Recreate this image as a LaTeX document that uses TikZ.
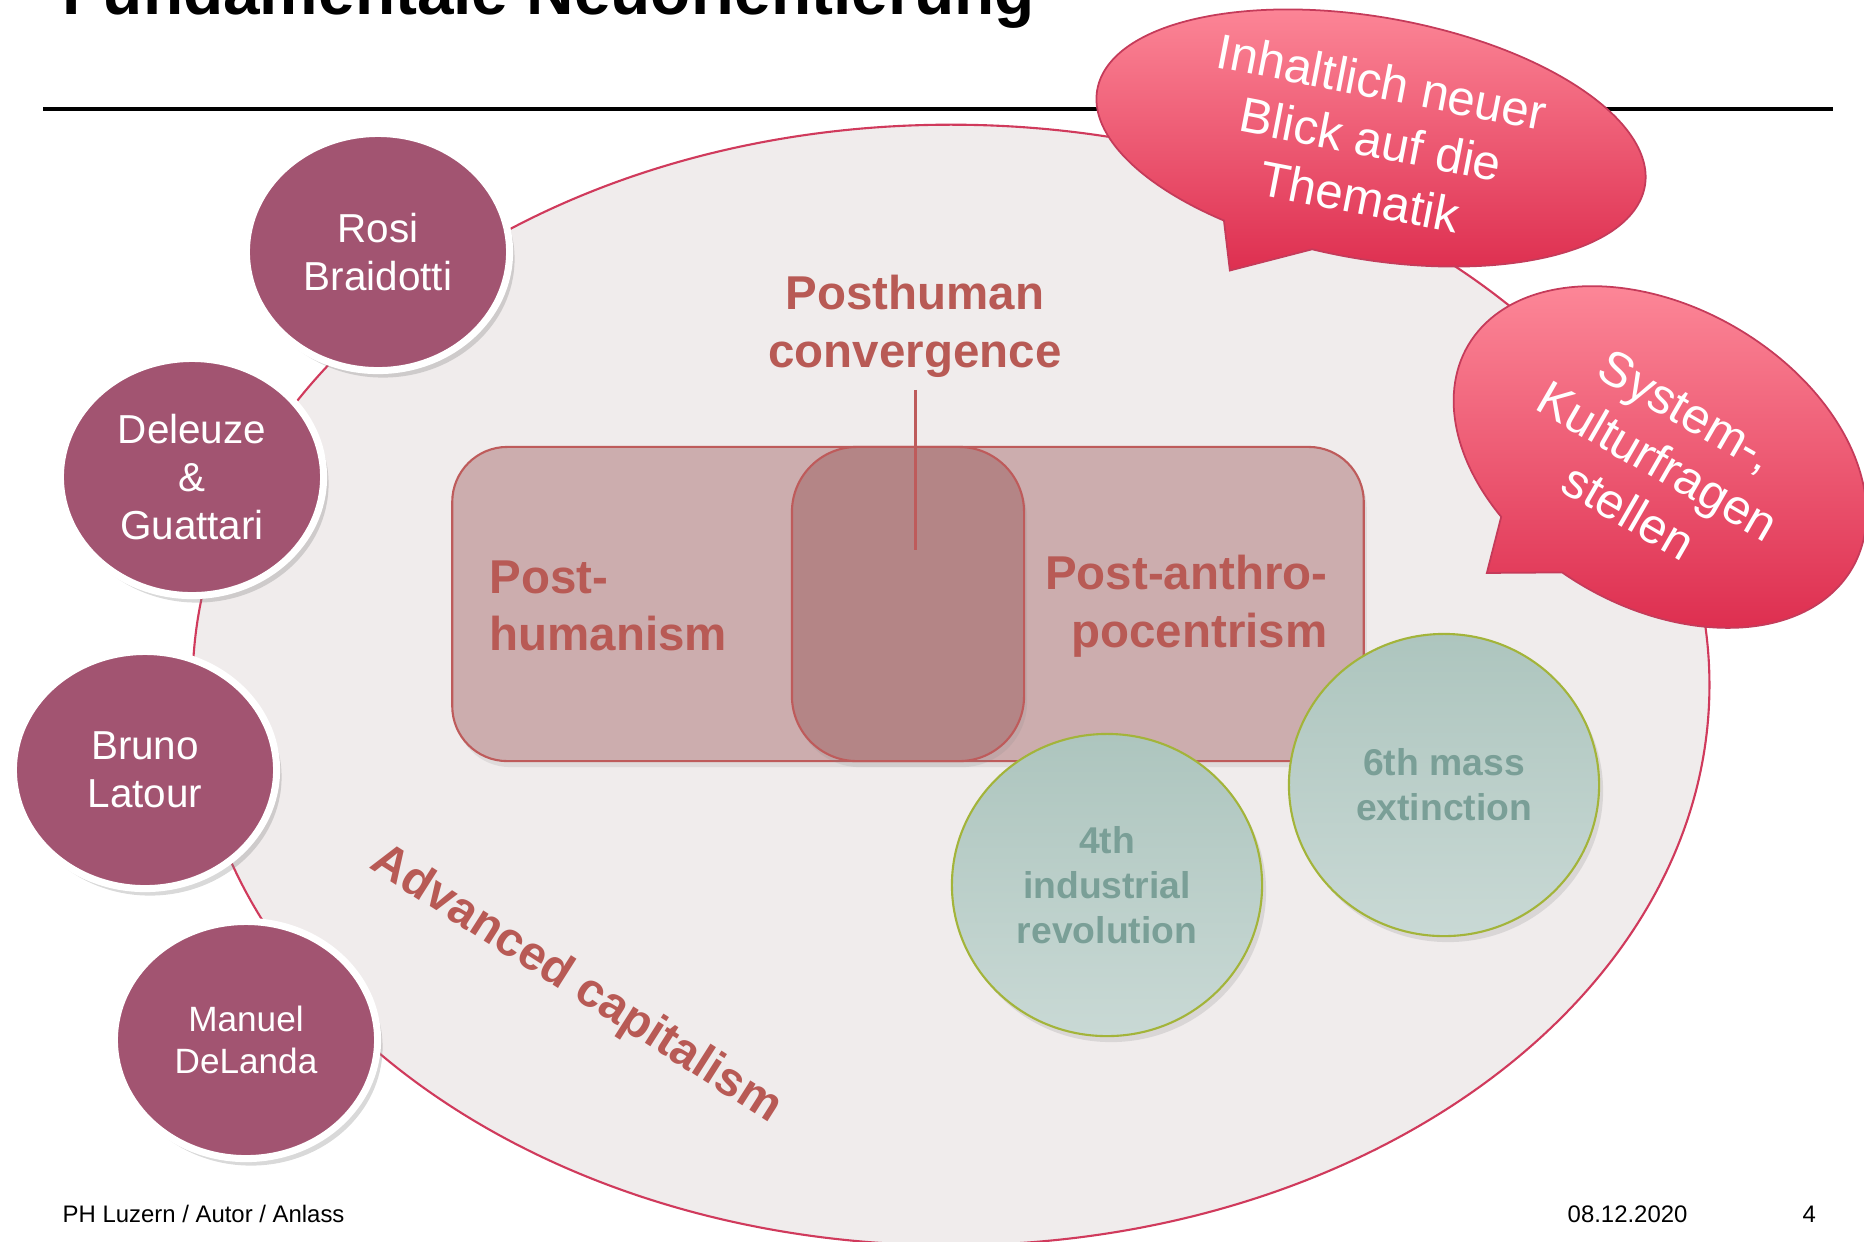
\documentclass[tikz,border=0pt]{standalone}
\usepackage{fontspec}
\setmainfont{Liberation Sans}
\usetikzlibrary{shapes.geometric,shadows}

\definecolor{plum}{HTML}{A25471}
\definecolor{ovalbg}{HTML}{F0ECEC}
\definecolor{ovalrim}{HTML}{D03A5C}
\definecolor{boxfill}{HTML}{CCADAE}
\definecolor{boxmid}{HTML}{B48586}
\definecolor{boxrim}{HTML}{BE5B5B}
\definecolor{rust}{HTML}{B85A55}
\definecolor{sagetop}{HTML}{ADC5BE}
\definecolor{sagebot}{HTML}{C9D9D5}
\definecolor{sagerim}{HTML}{A3B43A}
\definecolor{sagetext}{HTML}{7A9F97}
\definecolor{bubtop}{HTML}{FE8B9B}
\definecolor{bubbot}{HTML}{DC2A4C}
\definecolor{bubrim}{HTML}{C53B5A}

\begin{document}
\begin{tikzpicture}[x=0.01cm,y=-0.01cm,inner sep=0pt]
  \tikzstyle{thinker}=[ellipse,draw=white,line width=2pt,fill=plum,text=white,
                       minimum width=2.63cm,minimum height=2.37cm,align=center,
                       drop shadow={opacity=0.3,shadow xshift=0.5mm,shadow yshift=-0.7mm},
                       font=\fontsize{11.5}{13.7}\selectfont]
  \tikzstyle{trend}=[ellipse,draw=sagerim,line width=0.6pt,top color=sagetop,
                     bottom color=sagebot,text=sagetext,align=center,
                     minimum width=3.1cm,minimum height=3.02cm,
                     drop shadow={opacity=0.2,shadow xshift=0.4mm,shadow yshift=-0.6mm},
                     font=\bfseries\fontsize{10.6}{12.8}\selectfont]
  \tikzstyle{field}=[rectangle,draw=boxrim,line width=0.6pt,minimum height=3.14cm,
                     drop shadow={opacity=0.15,shadow xshift=0.3mm,shadow yshift=-0.6mm}]
  \tikzstyle{heading}=[text=rust,font=\bfseries\fontsize{13.5}{16.4}\selectfont]
  \tikzstyle{bubble}=[draw=bubrim,line width=0.5pt,top color=bubtop,bottom color=bubbot]
  \tikzstyle{bubbletext}=[text=white,align=center,font=\fontsize{14}{16.6}\selectfont]
  \tikzstyle{footer}=[anchor=base west,font=\fontsize{6.8}{8}\selectfont]

  \useasboundingbox (0,0) rectangle (1864,1241);

  % title and rule
  \node[anchor=base west,font=\bfseries\fontsize{18.7}{22}\selectfont] (title)
        at (62,14) {Fundamentale Neuorientierung};
  \coordinate (ruleL) at (43,109);
  \coordinate (ruleR) at (1833,109);
  \draw[line width=1.4pt] (ruleL) -- (ruleR);

  % background oval
  \node[ellipse,draw=ovalrim,fill=ovalbg,line width=0.6pt,
        minimum width=15.16cm,minimum height=11.2cm] (oval) at (951,685) {};

  % the two fields and their overlap
  \node[field,fill=boxfill,minimum width=9.11cm,rounded corners=0.55cm] (outer) at (908,604) {};
  \node[field,fill=boxmid,minimum width=2.32cm,rounded corners=0.65cm] (core) at (908,604) {};

  \node[heading,align=center] (conv) at (915,326) {Posthuman\\convergence};
  \coordinate (coretop) at (915,550);
  \draw[boxrim,line width=0.85pt,shorten <=1.2mm] (conv.south) -- (coretop);

  \node[heading,anchor=west,align=left]  (posthum)    at (489,606)  {Post-\\humanism};
  \node[heading,anchor=east,align=right] (postanthro) at (1328,606) {Post-anthro-\\pocentrism};

  % trends
  \node[trend] (sixth)  at (1444,785) {6th mass\\extinction};
  \node[trend] (fourth) at (1107,885) {4th\\industrial\\revolution};

  \node[heading,font=\bfseries\fontsize{13.6}{16}\selectfont,rotate=-32.5] (capital)
        at (576,985) {Advanced capitalism};

  % thinkers
  \node[thinker] (braidotti) at (378,252)  {Rosi\\Braidotti};
  \node[thinker] (deleuze)   at (192,477)  {Deleuze\\\&\\Guattari};
  \node[thinker] (latour)    at (145,770)  {Bruno\\Latour};
  \node[thinker,font=\fontsize{10}{11.8}\selectfont] (delanda) at (246,1040) {Manuel\\DeLanda};

  % speech bubbles
  \begin{scope}[shift={(1371,138)},y=0.01cm,rotate=-10]
    \path[bubble] (262:278 and 121) arc[start angle=262,end angle=602,x radius=278,y radius=121]
          -- (-116,-155) -- cycle;
  \end{scope}
  \node[bubbletext,rotate=-11] (newview) at (1371,139) {Inhaltlich neuer\\Blick auf die\\Thematik};

  \begin{scope}[shift={(1660,457)},y=0.01cm,rotate=-30]
    \path[bubble] (263:222 and 150) arc[start angle=263,end angle=601,x radius=222,y radius=150]
          -- (-92,-187) -- cycle;
  \end{scope}
  \node[bubbletext,rotate=-30] (culture) at (1658,461) {System-,\\Kulturfragen\\stellen};

  % footer
  \node[footer] (footl) at (62,1222)   {PH Luzern / Autor / Anlass};
  \node[footer] (date)  at (1567,1222) {08.12.2020};
  \node[footer] (page)  at (1802,1222) {4};
\end{tikzpicture}
\end{document}
